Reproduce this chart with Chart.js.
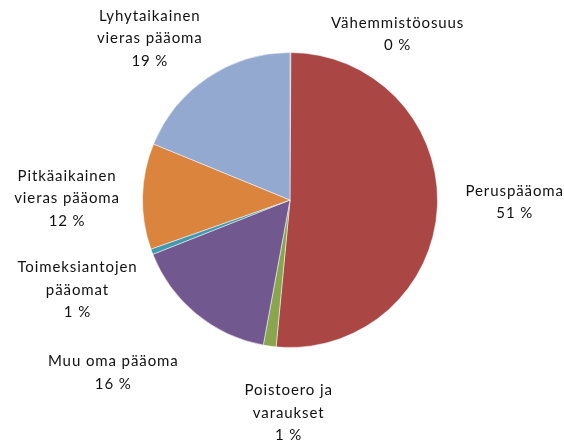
<!DOCTYPE html>
<html>
<head>
<meta charset="utf-8">
<script src="https://cdn.jsdelivr.net/npm/chart.js@4/dist/chart.umd.min.js"></script>
<style>
html,body{margin:0;padding:0;background:#fff;}
#wrap{width:564px;height:443px;position:relative;}
</style>
</head>
<body>
<div id="wrap"><canvas id="c" width="564" height="443"></canvas></div>
<script>
// Data
const categories = ["Vähemmistöosuus", "Peruspääoma", "Poistoero ja varaukset", "Muu oma pääoma", "Toimeksiantojen pääomat", "Pitkäaikainen vieras pääoma", "Lyhytaikainen vieras pääoma"];
const values = [0.1, 51.4, 1.4, 16.1, 0.6, 11.6, 18.8];
const percentLabels = ["0 %", "51 %", "1 %", "16 %", "1 %", "12 %", "19 %"];
const labelLines = [
  ["Vähemmistöosuus"],
  ["Peruspääoma"],
  ["Poistoero ja", "varaukset"],
  ["Muu oma pääoma"],
  ["Toimeksiantojen", "pääomat"],
  ["Pitkäaikainen", "vieras pääoma"],
  ["Lyhytaikainen", "vieras pääoma"]
];

// Styles / label placement
const colors = ["#4A7EBB", "#AA4643", "#89A54E", "#71588F", "#4198AF", "#DB843D", "#93A9CF"];
const labelRadOff = [50.5, 77.5, 65.5, 99.3, 83.7, 75.5, 66.5];
const labelNudge = [[107, 32], [0, -9], [28, 2], [-20, -18], [4, 9], [0, 4], [-21, 16]];
const LINE_H = 22.5;

const labelPlugin = {
  id: 'outLabels',
  afterDraw(chart) {
    const ctx = chart.ctx;
    const meta = chart.getDatasetMeta(0);
    ctx.save();
    ctx.font = '15px Lato, "Open Sans", sans-serif';
    if ('letterSpacing' in ctx) ctx.letterSpacing = '0.9px';
    ctx.fillStyle = '#111111';
    ctx.textAlign = 'center';
    ctx.textBaseline = 'middle';
    meta.data.forEach((arc, i) => {
      const p = arc.getProps(['x', 'y', 'startAngle', 'endAngle', 'outerRadius'], true);
      const mid = (p.startAngle + p.endAngle) / 2;
      const d = p.outerRadius + labelRadOff[i];
      const cx = p.x + Math.cos(mid) * d + labelNudge[i][0];
      const cy = p.y + Math.sin(mid) * d + labelNudge[i][1];
      const lines = labelLines[i].concat([percentLabels[i]]);
      const top = cy - (lines.length - 1) * LINE_H / 2;
      lines.forEach((t, k) => ctx.fillText(t, cx, top + k * LINE_H));
    });
    ctx.restore();
  }
};

new Chart(document.getElementById('c'), {
  type: 'pie',
  data: {
    labels: categories,
    datasets: [{
      data: values,
      backgroundColor: colors,
      borderColor: 'rgba(255,255,255,0.5)',
      borderWidth: 1
    }]
  },
  options: {
    responsive: false,
    animation: false,
    layout: { padding: { top: 52, bottom: 95, left: 100, right: 84 } },
    plugins: { legend: { display: false }, tooltip: { enabled: false } }
  },
  plugins: [labelPlugin]
});
</script>
</body>
</html>
